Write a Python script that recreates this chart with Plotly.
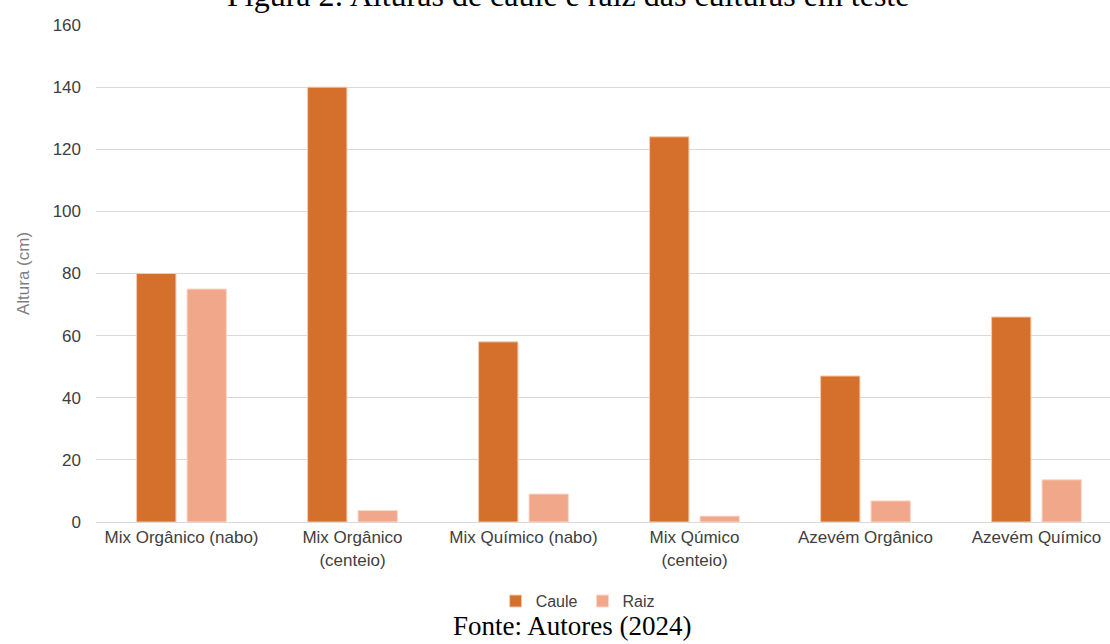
import plotly.graph_objects as go

categories = ["Mix Orgânico (nabo)", "Mix Orgânico<br>(centeio)", "Mix Químico (nabo)",
              "Mix Qúmico<br>(centeio)", "Azevém Orgânico", "Azevém Químico"]
caule = [80, 140, 58, 124, 47, 66]
raiz = [75, 3.7, 9, 1.9, 6.8, 13.6]
y_ticks = [0, 20, 40, 60, 80, 100, 120, 140, 160]

fig = go.Figure()
fig.add_trace(go.Bar(name="Caule", x=categories, y=caule, marker=dict(color="#D4702C", line=dict(color="#F5C9B0", width=1))))
fig.add_trace(go.Bar(name="Raiz", x=categories, y=raiz, marker=dict(color="#F1A88A", line=dict(color="#FAD8C9", width=1))))

fig.update_layout(
    width=1110, height=644,
    margin=dict(l=96, r=0, t=25, b=122),
    barmode="group", bargap=0.41, bargroupgap=0.22,
    plot_bgcolor="white", paper_bgcolor="white",
    font=dict(family="Liberation Sans, Arial", size=17, color="#404040"),
    showlegend=True,
    legend=dict(orientation="h", x=0.475, xanchor="center", y=-0.125, yanchor="top",
                font=dict(size=16, color="#404040"), itemwidth=30, traceorder="normal"),
    yaxis=dict(range=[0, 160], tickvals=y_ticks, showgrid=True, gridcolor="#D9D9D9", gridwidth=1,
               zeroline=False, ticks="", ticklabelstandoff=14, tickfont=dict(size=17, color="#404040"),
               title=dict(text="Altura (cm)", font=dict(size=17, color="#7F7F7F"), standoff=18)),
    xaxis=dict(showline=True, linecolor="#D9D9D9", linewidth=1, ticks="", range=[-0.5, 5.43],
               tickfont=dict(size=17, color="#404040")),
    annotations=[
        dict(text="Figura 2: Alturas de caule e raiz das culturas em teste", xref="paper", yref="paper",
             x=0.465, y=1 + (25 + 5) / 497, yanchor="middle", showarrow=False,
             font=dict(family="Liberation Serif, Times New Roman", size=32, color="#000000")),
        dict(text="Fonte: Autores (2024)", xref="paper", yref="paper",
             x=0.469, y=-(626 - 522) / 497, yanchor="middle", showarrow=False,
             font=dict(family="Liberation Serif, Times New Roman", size=27, color="#000000")),
    ],
)

fig.write_html("out.html")
